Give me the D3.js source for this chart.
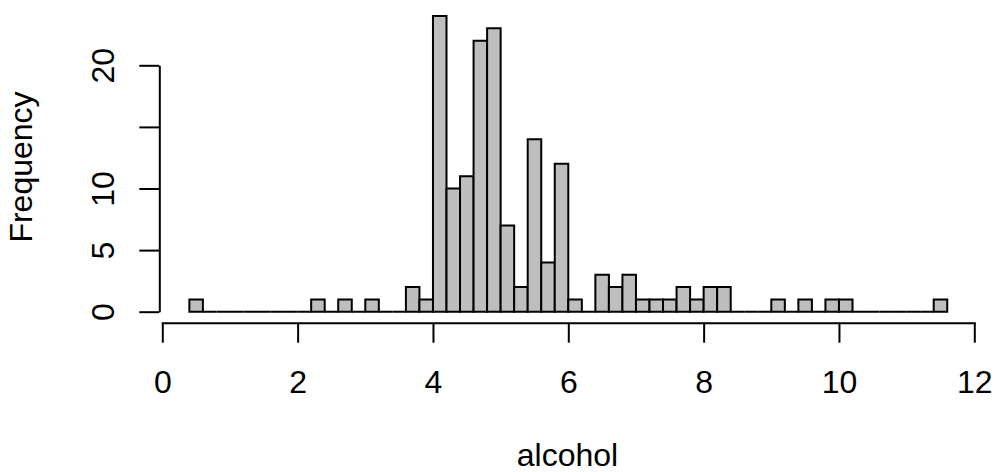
<!DOCTYPE html>
<html>
<head>
<meta charset="utf-8">
<script src="https://cdn.jsdelivr.net/npm/d3@7"></script>
<style>
  html, body { margin: 0; padding: 0; background: #fff; }
  svg { display: block; font-family: "Liberation Sans", Arial, sans-serif; }
  .axis path, .axis line { stroke: #000; stroke-width: 2; }
  .axis text { font-size: 32px; fill: #000; }
  .lab { font-size: 32px; fill: #000; }
</style>
</head>
<body>
<svg id="chart"></svg>
<script>
// histogram of alcohol, bins of 0.2 from 0.4 to 11.6
const binStart = [
  0.4, 0.6, 0.8, 1.0, 1.2, 1.4, 1.6, 1.8, 2.0, 2.2, 2.4, 2.6, 2.8, 3.0,
  3.2, 3.4, 3.6, 3.8, 4.0, 4.2, 4.4, 4.6, 4.8, 5.0, 5.2, 5.4, 5.6, 5.8,
  6.0, 6.2, 6.4, 6.6, 6.8, 7.0, 7.2, 7.4, 7.6, 7.8, 8.0, 8.2, 8.4, 8.6,
  8.8, 9.0, 9.2, 9.4, 9.6, 9.8, 10.0, 10.2, 10.4, 10.6, 10.8, 11.0, 11.2, 11.4
];
const counts = [
  1, 0, 0, 0, 0, 0, 0, 0, 0, 1, 0, 1, 0, 1,
  0, 0, 2, 1, 24, 10, 11, 22, 23, 7, 2, 14, 4, 12,
  1, 0, 3, 2, 3, 1, 1, 1, 2, 1, 2, 2, 0, 0,
  0, 1, 0, 1, 0, 1, 1, 0, 0, 0, 0, 0, 0, 1
];
const binWidth = 0.2;
const xTicks = [0, 2, 4, 6, 8, 10, 12];
const yTicks = [0, 5, 10, 15, 20];
const yTickLabels = ['0', '5', '10', '', '20'];   // R drops 15 (overlap)
const xTitle = 'alcohol';
const yTitle = 'Frequency';

const W = 995, H = 472;
const svg = d3.select('#chart').attr('width', W).attr('height', H);

const x = d3.scaleLinear().domain([0, 12]).range([162.3, 974.3]);
const y = d3.scaleLinear().domain([0, 20]).range([311.7, 65.3]);

const rows = binStart.map((s, i) => ({ x0: s, x1: s + binWidth, n: counts[i] }));

// bars drawn as closed outlines so empty bins still show as a flat line
svg.append('g').selectAll('path')
  .data(rows)
  .join('path')
    .attr('d', d => {
      const a = x(d.x0), b = x(d.x1), t = y(d.n), z = y(0);
      return `M${a},${z}L${a},${t}L${b},${t}L${b},${z}Z`;
    })
    .attr('fill', '#bebebe')
    .attr('stroke', '#000')
    .attr('stroke-width', 2)
    .attr('stroke-linejoin', 'miter');

// x axis
const gx = svg.append('g').attr('class', 'axis')
  .attr('transform', 'translate(0,322.7)')
  .call(d3.axisBottom(x).tickValues(xTicks).tickSize(20).tickSizeOuter(0).tickPadding(0));
gx.selectAll('text').attr('y', 70.6).attr('dy', null);
gx.select('.domain').attr('stroke-linecap', 'square');

// y axis
const gy = svg.append('g').attr('class', 'axis')
  .attr('transform', 'translate(159.3,0)')
  .call(d3.axisLeft(y).tickValues(yTicks).tickSize(20).tickSizeOuter(0)
    .tickFormat((d, i) => yTickLabels[i]));
gy.selectAll('text')
  .attr('transform', 'rotate(-90)')
  .attr('x', 0).attr('y', -45.5).attr('dy', null)
  .attr('text-anchor', 'middle');

// titles
svg.append('text').attr('class', 'lab')
  .attr('x', 567.5).attr('y', 466)
  .attr('text-anchor', 'middle')
  .text(xTitle);

svg.append('text').attr('class', 'lab')
  .attr('transform', 'translate(31.7,167) rotate(-90)')
  .attr('text-anchor', 'middle')
  .text(yTitle);
</script>
</body>
</html>
